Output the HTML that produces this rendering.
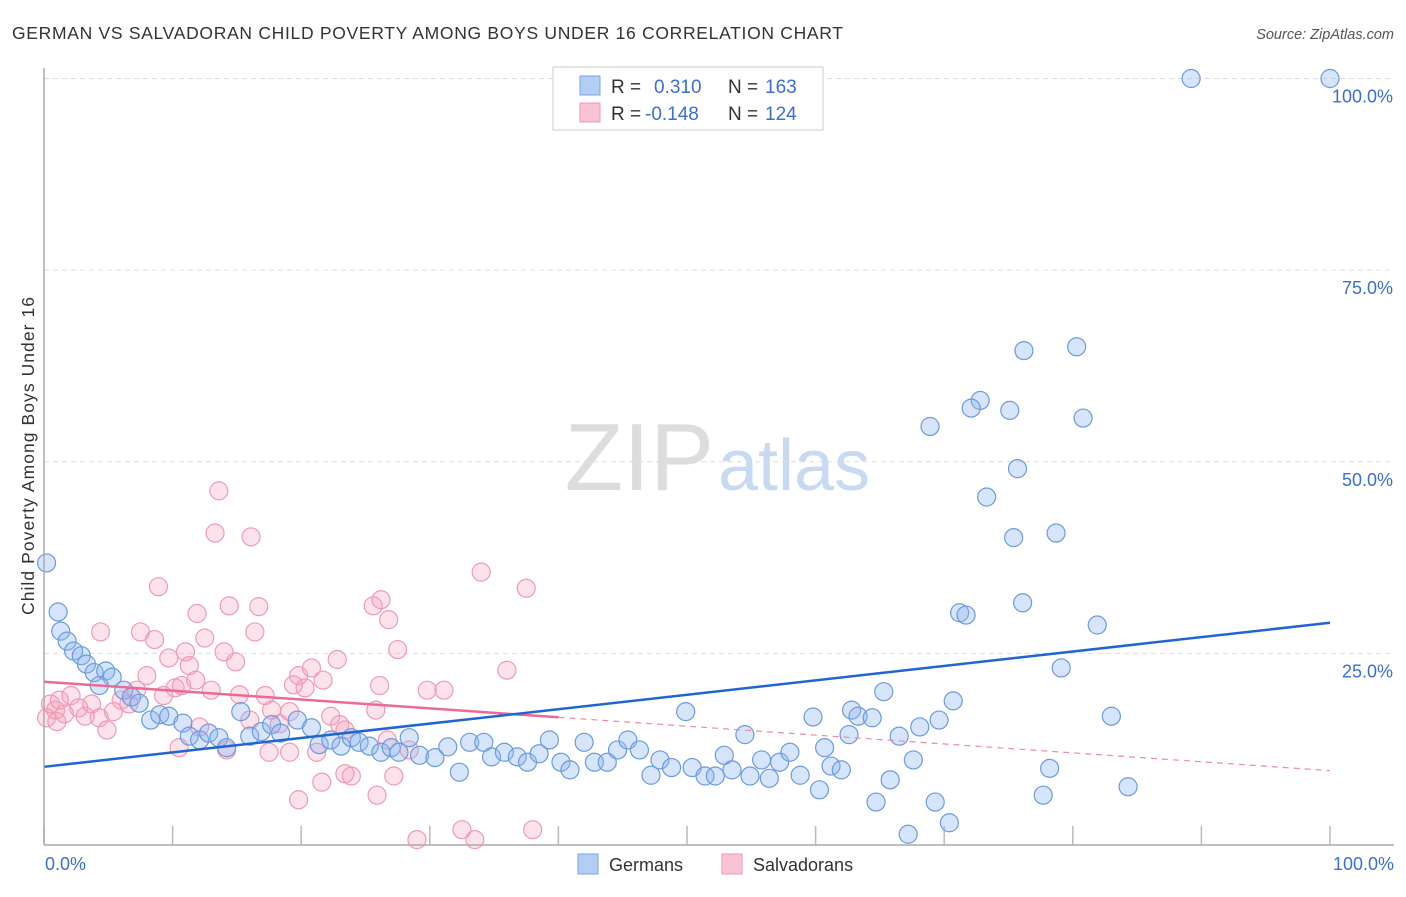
<!DOCTYPE html>
<html><head><meta charset="utf-8"><style>
body{margin:0;background:#fff;font-family:"Liberation Sans",sans-serif}
svg text{font-family:"Liberation Sans",sans-serif}
</style></head><body>
<svg id="chart" width="1406" height="892" xmlns="http://www.w3.org/2000/svg">
<text x="12" y="39" font-size="17.5" fill="#333" textLength="831" lengthAdjust="spacing">GERMAN VS SALVADORAN CHILD POVERTY AMONG BOYS UNDER 16 CORRELATION CHART</text>
<text x="1394" y="39" font-size="14.5" fill="#555" font-style="italic" text-anchor="end">Source: ZipAtlas.com</text>
<text x="714" y="490" font-size="96" fill="#ddd" text-anchor="end" font-family="Liberation Serif">ZIP</text>
<text x="718" y="490" font-size="72" fill="#c8daf2">atlas</text>
<g id="grid"></g>
<g id="pts"></g>
<g id="lines"></g>
<line x1="44" y1="68" x2="44" y2="845" stroke="#aaa" stroke-width="1.5"/>
<line x1="44" y1="845" x2="1394" y2="845" stroke="#aaa" stroke-width="1.5"/>
<text transform="translate(34,456) rotate(-90)" font-size="17.5" fill="#333" text-anchor="middle" textLength="318" lengthAdjust="spacing">Child Poverty Among Boys Under 16</text>
<text x="45" y="870" font-size="18" fill="#3a6fd0">0.0%</text>
<text x="1394" y="870" font-size="18" fill="#3a6fd0" text-anchor="end">100.0%</text>
<g>
<rect x="553" y="67" width="270" height="63" fill="#fff" stroke="#ccc"/>
<rect x="580" y="76" width="20" height="19" fill="#b4cdf3" stroke="#7aa3e3"/>
<rect x="580" y="103" width="20" height="19" fill="#f9c3d3" stroke="#ef9ab4"/>
<text x="611" y="93" font-size="19" fill="#333">R =</text><text x="654" y="93" font-size="19" fill="#3a6fd0">0.310</text>
<text x="728" y="93" font-size="19" fill="#333">N =</text><text x="765" y="93" font-size="19" fill="#3a6fd0">163</text>
<text x="611" y="120" font-size="19" fill="#333">R =</text><text x="645" y="120" font-size="19" fill="#3a6fd0">-0.148</text>
<text x="728" y="120" font-size="19" fill="#333">N =</text><text x="765" y="120" font-size="19" fill="#3a6fd0">124</text>
</g>
<g>
<rect x="578" y="854" width="20" height="20" fill="#b4cdf3" stroke="#7aa3e3"/>
<text x="609" y="871" font-size="18" fill="#333">Germans</text>
<rect x="722" y="854" width="20" height="20" fill="#f9c3d3" stroke="#ef9ab4"/>
<text x="753" y="871" font-size="18" fill="#333">Salvadorans</text>
</g>
</svg>
<script>
const yTicks=[25,50,75,100];
const xTicks=[0,10,20,30,40,50,60,70,80,90,100];
const blueX=[89.2,100,76.2,80.3,72.8,72.1,75.1,80.8,68.9,75.7,73.3,75.4,78.7,76.1,71.2,71.7,81.9,79.1,0.2,1.1,1.3,1.8,2.3,2.9,3.3,3.9,4.8,5.3,4.3,6.2,6.8,7.4,8.3,9,9.7,10.8,11.3,12.1,12.8,13.6,14.2,15.3,16,16.9,17.7,18.4,19.7,20.8,21.4,22.3,23.1,23.9,24.5,25.3,26.2,27,27.6,28.4,29.2,30.4,31.4,32.3,33.1,34.2,34.8,35.8,36.8,37.6,38.5,39.3,40.2,40.9,42,42.8,43.8,44.6,45.4,46.3,47.2,47.9,48.8,49.9,50.4,51.4,52.2,52.9,53.5,54.5,54.9,55.8,56.4,57.2,58,58.8,59.8,60.7,61.2,62,62.8,63.3,64.4,65.3,65.8,66.5,67.6,68.1,69.6,70.7,64.7,67.2,69.3,70.4,77.7,78.2,83,84.3,60.3,62.6];
const blueY=[100,100,64.5,65,58,57,56.7,55.7,54.6,49.1,45.4,40.1,40.7,31.6,30.3,30,28.7,23.1,36.8,30.4,27.9,26.6,25.3,24.7,23.6,22.5,22.7,21.9,20.8,20.2,19.3,18.5,16.3,17,16.8,15.9,14.2,13.7,14.6,14,12.7,17.4,14.2,14.8,15.7,14.6,16.3,15.3,13.1,13.7,12.9,14,13.4,12.9,12.1,12.7,12.1,14,11.7,11.4,12.8,9.5,13.4,13.4,11.5,12.1,11.5,10.8,11.9,13.7,10.8,9.8,13.4,10.8,10.8,12.4,13.7,12.4,9.1,11.1,10.1,17.4,10.1,9,9,11.7,9.8,14.4,9,11.1,8.7,10.8,12.1,9.1,16.7,12.7,10.3,9.8,17.6,16.8,16.6,20,8.5,14.2,11.1,15.4,16.3,18.8,5.6,1.4,5.6,2.9,6.5,10,16.8,7.6,7.2,14.4];
const pinkX=[0.2,0.5,0.9,1.2,1.6,2.1,2.7,3.2,3.7,4.3,4.9,4.4,5.4,6,6.6,7.2,7.5,8,8.6,8.9,9.3,9.7,10.2,10.7,11,11.3,11.8,11.9,12.5,13,13.3,13.6,14,14.4,14.9,15.2,16.1,16.4,16.7,17.2,17.7,18.3,19.4,19.8,20.3,20.8,21.2,21.7,22.3,22.8,23.4,23.9,25.6,26.2,26.8,27.5,26.1,25.8,26.7,27.2,28.4,29,29.8,31.1,32.5,33.5,34,36,37.5,38,19.8,21.6,25.9,19.1,17.5,14.2,10.5,16,12.1,19.1,23,23.4,1];
const pinkY=[16.6,18.4,17.6,18.9,17.1,19.5,17.9,16.8,18.4,16.6,15,27.8,17.4,18.9,18.4,20.2,27.8,22.1,26.8,33.7,19.5,24.4,20.5,20.8,25.2,23.4,21.5,30.2,27,20.2,40.7,46.2,25.2,31.2,23.9,19.6,40.2,27.8,31.1,19.5,17.6,15.8,20.9,22.1,20.5,23.1,12.1,21.5,16.8,24.2,9.3,9,31.2,32,29.4,25.5,20.8,17.6,13.7,9,12.4,0.7,20.2,20.2,2,0.7,35.6,22.8,33.5,2,5.9,8.2,6.5,12.1,12.1,12.4,12.7,16.3,15.4,17.4,15.7,15,16.1];
const blueFit=[10.2,29.0];
const pinkFit=[21.3,9.7];
const pinkSolidEnd=40;
const NS="http://www.w3.org/2000/svg";
const X=v=>44+v*12.86, Y=v=>845-v*7.665;
function mk(t,a,p){const e=document.createElementNS(NS,t);for(const k in a)e.setAttribute(k,a[k]);p.appendChild(e);return e;}
const grid=document.getElementById('grid'),pts=document.getElementById('pts'),lines=document.getElementById('lines');
yTicks.forEach(t=>{
 const l=mk('line',{x1:44,x2:1394,y1:Y(t),y2:Y(t),stroke:'#ddd','stroke-dasharray':'5,4'},grid);
 
 
 const tx=mk('text',{x:1393,y:Y(t)+24,'font-size':18,fill:'#3a6fd0','text-anchor':'end'},grid);
 tx.textContent=t.toFixed(1)+'%';
 
 
});
xTicks.forEach(t=>{
 const l=mk('line',{x1:X(t),x2:X(t),y1:826,y2:845,stroke:'#bbb','stroke-width':1.5},grid);
 
 
});
pinkX.forEach((v,i)=>{
 const c=mk('circle',{cx:X(v),cy:Y(pinkY[i]),r:9,fill:'rgba(244,160,186,0.3)',stroke:'#f09ab5','stroke-width':1.2},pts);
 
 
});
blueX.forEach((v,i)=>{
 const c=mk('circle',{cx:X(v),cy:Y(blueY[i]),r:9,fill:'rgba(140,180,240,0.35)',stroke:'#6a9ae0','stroke-width':1.2},pts);
 
 
});
const pAt=x=>pinkFit[0]+(pinkFit[1]-pinkFit[0])*x/100;
const l1=mk('line',{x1:X(0),y1:Y(pAt(0)),x2:X(pinkSolidEnd),y2:Y(pAt(pinkSolidEnd)),stroke:'#ec6a93','stroke-width':2.5},lines);


const l2=mk('line',{x1:X(pinkSolidEnd),y1:Y(pAt(pinkSolidEnd)),x2:X(100),y2:Y(pAt(100)),stroke:'#ec8aa8','stroke-width':1.2,'stroke-dasharray':'6,5'},lines);


const l3=mk('line',{x1:X(0),y1:Y(blueFit[0]),x2:X(100),y2:Y(blueFit[1]),stroke:'#2066d0','stroke-width':2.5},lines);


</script>
</body></html>
